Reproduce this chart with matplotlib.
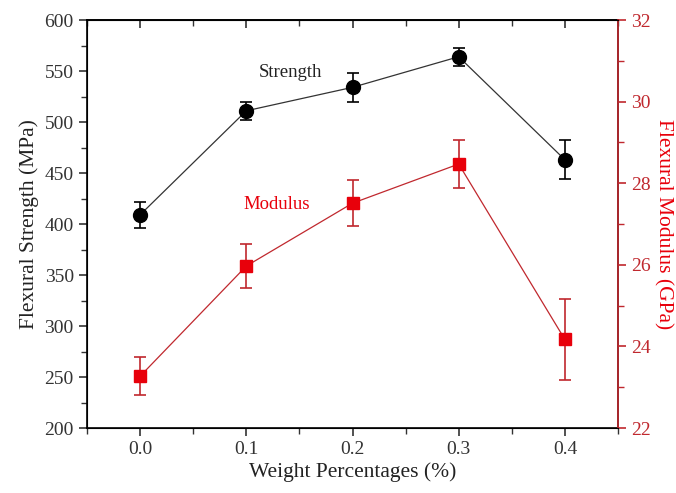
import numpy as np
import matplotlib.pyplot as plt
from matplotlib.ticker import MultipleLocator

plt.rcParams['font.family'] = ['Liberation Serif', 'DejaVu Serif']

# weight fraction of filler
wt = [0.0, 0.1, 0.2, 0.3, 0.4]

# flexural strength (MPa) and error
strength = [409, 511, 534, 564, 463]
strength_err = [13, 9, 14, 9, 19]

# flexural modulus (GPa) and error
modulus = [23.27, 25.97, 27.51, 28.47, 24.17]
modulus_err = [0.47, 0.55, 0.57, 0.59, 0.99]

red = '#e8000b'
dark_red = '#c0282e'

fig = plt.figure(figsize=(6.76, 4.93), dpi=100)
ax = fig.add_axes([0.1287, 0.1318, 0.7855, 0.8276])

ax.errorbar(wt, strength, yerr=strength_err, color='#333333', lw=0.9,
            marker='o', ms=10, mfc='black', mec='black',
            ecolor='black', elinewidth=1.2, capsize=4, capthick=1.2)
ax.set_xlim(-0.05, 0.45)
ax.set_ylim(200, 600)
ax.xaxis.set_minor_locator(MultipleLocator(0.05))
ax.yaxis.set_major_locator(MultipleLocator(50))
ax.yaxis.set_minor_locator(MultipleLocator(25))
ax.set_xticks(wt)
ax.set_xticklabels(['0.0', '0.1', '0.2', '0.3', '0.4'])
ax.tick_params(axis='x', which='both', direction='out', labelsize=14, colors='#333333')
ax.tick_params(axis='y', which='both', direction='out', labelsize=14, colors='#333333')
ax.tick_params(which='major', length=6, width=1.2)
ax.tick_params(which='minor', length=4, width=1.0)
ax.set_xlabel('Weight Percentages (%)', fontsize=15.5, color='#222222', labelpad=3)
ax.set_ylabel('Flexural Strength (MPa)', fontsize=15.5, color='#222222')
for s in ax.spines.values():
    s.set_linewidth(1.2)
ax.text(0.142, 549, 'Strength', fontsize=13.5, ha='center', va='center', color='#222222')

# top ticks point into the plot
top = ax.secondary_xaxis('top')
top.set_xticks(wt)
top.xaxis.set_minor_locator(MultipleLocator(0.05))
top.tick_params(which='both', direction='in', labeltop=False, colors='#333333')
top.tick_params(which='major', length=6, width=1.2)
top.tick_params(which='minor', length=4, width=1.0)
top.spines['top'].set_linewidth(1.2)

ax2 = ax.twinx()
ax2.errorbar(wt, modulus, yerr=modulus_err, color=dark_red, lw=0.9,
             marker='s', ms=9, mfc=red, mec=red,
             ecolor=dark_red, elinewidth=1.2, capsize=4, capthick=1.2)
ax2.set_ylim(22, 32)
ax2.yaxis.set_major_locator(MultipleLocator(2))
ax2.yaxis.set_minor_locator(MultipleLocator(1))
ax2.tick_params(axis='y', which='both', direction='out', colors=dark_red, labelsize=14)
ax2.tick_params(which='major', length=6, width=1.2)
ax2.tick_params(which='minor', length=4, width=1.0)
ax2.spines['right'].set_color(dark_red)
ax2.spines['right'].set_linewidth(1.2)
ax2.set_ylabel('Flexural Modulus (GPa)', fontsize=15.5, color=red,
               rotation=270, labelpad=16)
ax2.text(0.129, 27.47, 'Modulus', fontsize=13.5, ha='center', va='center', color=red)

fig.savefig('out.png', dpi=100)
